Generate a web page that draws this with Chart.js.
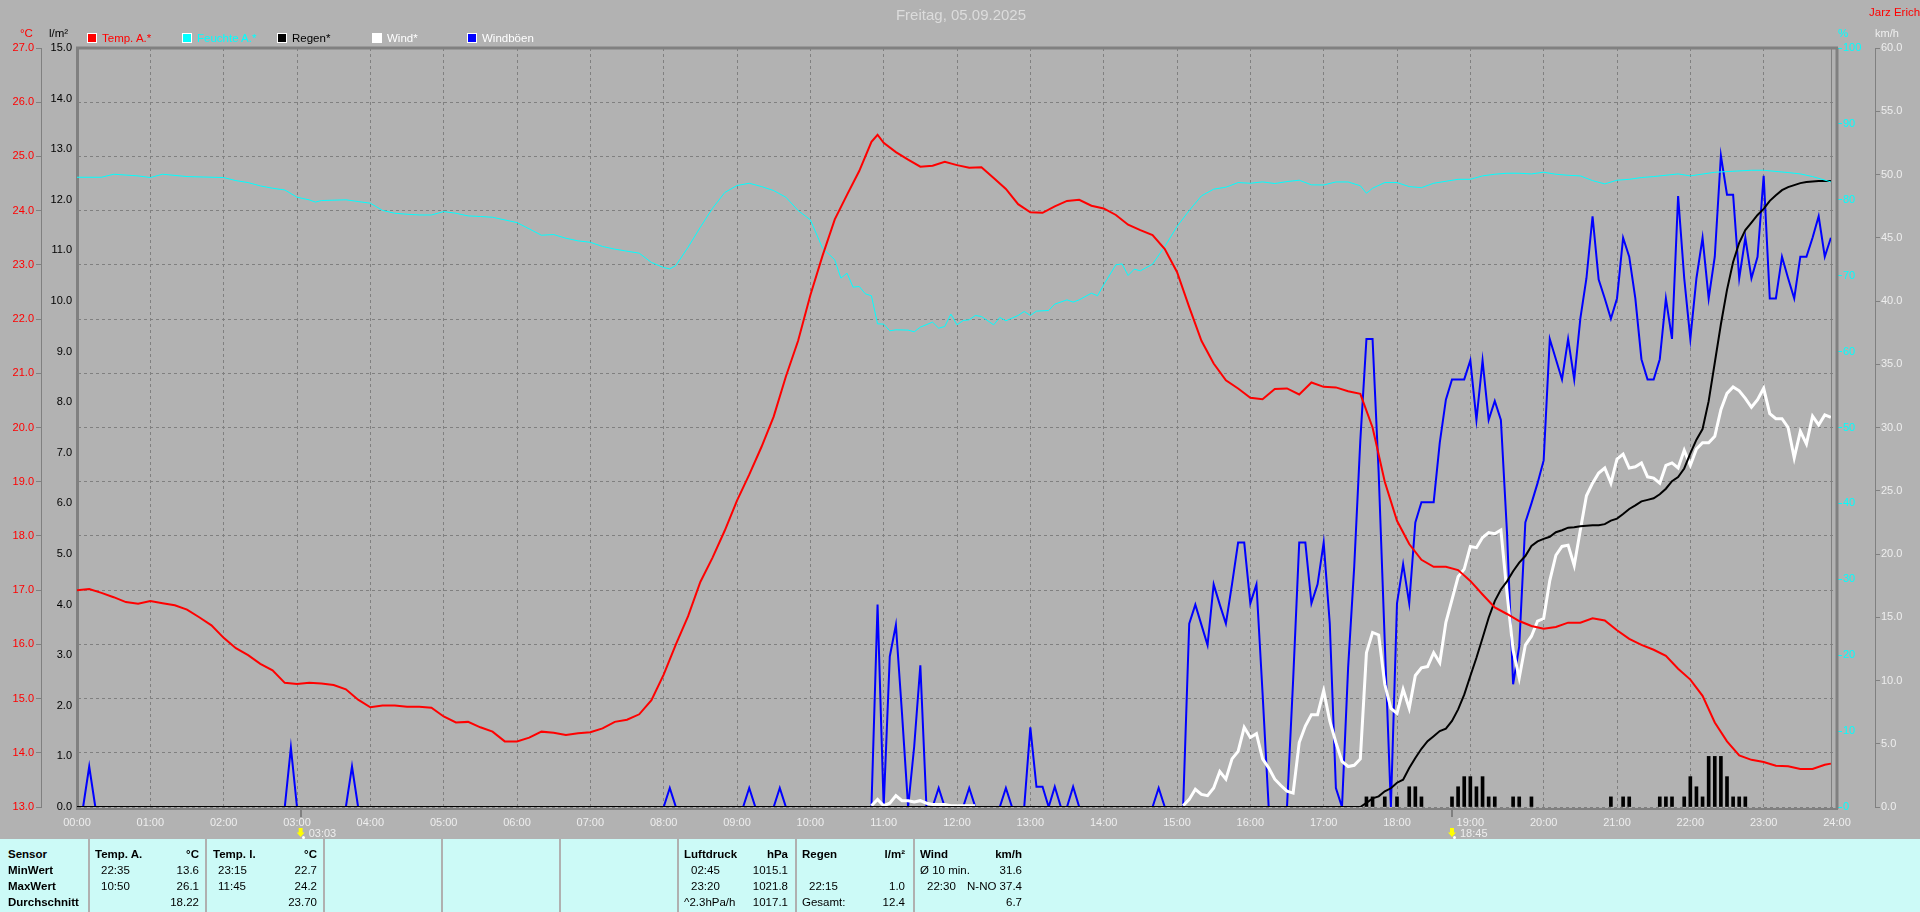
<!DOCTYPE html>
<html>
<head>
<meta charset="utf-8">
<title>Wetter 05.09.2025</title>
<script src="https://cdn.jsdelivr.net/npm/chart.js@4"></script>
<style>
    html, body { margin: 0; padding: 0; background: #b2b2b2; overflow: hidden; }
    #page { position: relative; width: 1920px; height: 912px; font: 11.5px "Liberation Sans", Arial, sans-serif; }
    #chart { position: absolute; left: 0; top: 0; }
    #panel { position: absolute; left: 0; top: 839px; width: 1920px; height: 73px; background: #ccfaf7; }
    .sep { position: absolute; top: 839px; width: 2px; height: 73px; background: #b0b0b0; }
    .txt { position: absolute; line-height: 14px; white-space: nowrap; }
    .swatch { position: absolute; width: 8px; height: 8px; border: 1px solid #fff; }
    .sun { position: absolute; width: 8px; height: 9px; background: #ffff00; clip-path: polygon(25% 0, 75% 0, 75% 50%, 100% 50%, 50% 100%, 0 50%, 25% 50%); }
    .dot { position: absolute; width: 3px; height: 3px; background: #fff; border-radius: 2px; }
</style>
</head>
<body>
<div id="page">
    <canvas id="chart" width="1920" height="839"></canvas>
    <div id="panel"></div>
</div>
<script>
const hourLabels = ['00:00','01:00','02:00','03:00','04:00','05:00','06:00','07:00','08:00','09:00','10:00','11:00','12:00',
    '13:00','14:00','15:00','16:00','17:00','18:00','19:00','20:00','21:00','22:00','23:00','24:00'];

// outside temperature, minute of day / °C
const tempTimes = [0,10,20,30,40,50, 60,70,80,90,100,110, 120,130,140,150,160,170, 180,190,200,210,220,230,
    240,250,260,270,280,290, 300,310,320,330,340,350, 360,370,380,390,400,410, 420,430,440,450,460,470,
    480,490,500,510,520,530, 540,550,560,570,580,590, 600,610,620,630,640,650,655, 660,670,680,690,700,710,
    720,730,740,750,760,770, 780,790,800,810,820,830, 840,850,860,870,880,890, 900,910,920,930,940,950,
    960,970,980,990,1000,1010, 1020,1030,1040,1050,1060,1070, 1080,1090,1100,1110,1120,1130, 1140,1150,1160,1170,1180,1190,
    1200,1210,1220,1230,1240,1250, 1260,1270,1280,1290,1300,1310, 1320,1330,1340,1350,1360,1370, 1380,1390,1400,1410,1420,1430,1435];
const tempValues = [17.0,17.02,16.95,16.87,16.78,16.75, 16.8,16.76,16.72,16.64,16.5,16.35, 16.12,15.93,15.8,15.64,15.52,15.29,
    15.27,15.29,15.28,15.25,15.17,14.98, 14.84,14.87,14.87,14.85,14.85,14.83, 14.67,14.56,14.57,14.47,14.39,14.21,
    14.21,14.28,14.39,14.37,14.33,14.36, 14.38,14.45,14.57,14.61,14.71,14.97, 15.44,16.0,16.52,17.15,17.6,18.1,
    18.65,19.13,19.64,20.2,20.94,21.6, 22.44,23.17,23.84,24.29,24.73,25.27,25.4, 25.25,25.08,24.94,24.81,24.83,24.9,
    24.84,24.79,24.8,24.6,24.4,24.12, 23.97,23.96,24.08,24.18,24.2,24.09, 24.04,23.92,23.74,23.64,23.55,23.29,
    22.87,22.22,21.6,21.18,20.87,20.72, 20.55,20.52,20.71,20.72,20.61,20.83, 20.75,20.74,20.67,20.62,20.0,19.0,
    18.28,17.85,17.56,17.43,17.43,17.37, 17.17,16.92,16.68,16.56,16.43,16.34, 16.29,16.32,16.4,16.4,16.48,16.44,
    16.26,16.1,15.99,15.9,15.79,15.55, 15.35,15.05,14.56,14.21,13.95,13.87, 13.83,13.76,13.75,13.7,13.7,13.78,13.8];

// outside humidity, minute of day / %
const humTimes = [0,20,30,50,60,70,90,120,130,140,150,160,170,180,190,195,200,220,230,240,250,260,270,280,290,300,310,320,330,340,
    360,370,380,390,400,410,420,430,440,450,460,470,480,485,490,500,510,520,530,540,550,560,570,580,590,600,610,620,625,630,635,640,645,650,655,
    660,665,670,680,685,690,700,705,710,715,720,725,730,735,740,750,755,760,770,775,780,785,795,800,810,815,820,830,835,840,850,855,860,865,870,880,890,
    900,910,920,930,940,950,960,970,980,990,1000,1010,1020,1030,1040,1050,1055,1060,1070,1080,1090,1100,1110,1130,1140,1150,1160,1170,1180,1190,
    1200,1210,1220,1230,1240,1250,1260,1270,1280,1290,1310,1320,1340,1350,1370,1380,1400,1410,1420,1435];
const humValues = [82.97,82.97,83.37,83.15,82.93,83.37,83.06,82.93,82.53,82.27,81.83,81.52,81.3,80.34,79.99,79.7,79.9,80,79.77,79.55,78.6,78.23,78.1,78,78,78.45,78.23,77.88,77.8,77.7,
    77,76.17,75.33,75.42,74.94,74.59,74.4,73.85,73.5,73.23,72.97,71.74,71.08,70.9,71.34,73.76,76.39,78.89,80.96,81.88,82.18,81.75,81.22,80.34,78.59,77.36,73.63,72.09,69.68,70.33,68.49,68.58,67.61,67.35,63.66,
    63.62,62.74,62.87,62.83,62.61,63.22,63.88,63.09,63.31,64.94,63.53,64.1,64.19,64.76,64.63,63.53,64.5,64.06,64.76,65.29,64.76,65.33,65.42,66.25,66.82,66.52,66.82,67.7,67.35,68.8,71.43,71.56,70.03,70.86,70.64,71.52,73.85,
    76.48,78.59,80.52,81.4,81.66,82.27,82.18,82.36,82.14,82.4,82.58,81.97,81.95,82.35,82.35,81.85,80.86,81.52,82.27,82.27,81.74,81.6,82.18,82.7,82.7,83.15,83.37,83.5,83.5,83.41,
    83.63,83.37,83.23,83.15,82.53,82.09,82.58,82.7,82.93,83.06,83.41,83.15,83.63,83.72,83.89,83.89,83.59,83.41,83.06,82.36];

// accumulated rain, one row per hour, 5 minute samples / l/m²
const rainTotal = [
    0,0,0,0,0,0,0,0,0,0,0,0, 0,0,0,0,0,0,0,0,0,0,0,0, 0,0,0,0,0,0,0,0,0,0,0,0, 0,0,0,0,0,0,0,0,0,0,0,0,
    0,0,0,0,0,0,0,0,0,0,0,0, 0,0,0,0,0,0,0,0,0,0,0,0, 0,0,0,0,0,0,0,0,0,0,0,0, 0,0,0,0,0,0,0,0,0,0,0,0,
    0,0,0,0,0,0,0,0,0,0,0,0, 0,0,0,0,0,0,0,0,0,0,0,0, 0,0,0,0,0,0,0,0,0,0,0,0, 0,0,0,0,0,0,0,0,0,0,0,0,
    0,0,0,0,0,0,0,0,0,0,0,0, 0,0,0,0,0,0,0,0,0,0,0,0, 0,0,0,0,0,0,0,0,0,0,0,0, 0,0,0,0,0,0,0,0,0,0,0,0,
    0,0,0,0,0,0,0,0,0,0,0,0,
    0,0,0,0,0,0,0,0.08,0.17,0.21,0.31,0.37,
    0.48,0.54,0.77,0.97,1.15,1.3,1.4,1.5,1.55,1.7,1.93,2.22,
    2.59,2.95,3.34,3.74,4.07,4.3,4.46,4.66,4.83,4.96,5.16,5.25,
    5.3,5.34,5.43,5.47,5.52,5.53,5.55,5.56,5.57,5.57,5.59,5.66,
    5.7,5.79,5.89,5.96,6.04,6.07,6.1,6.18,6.29,6.44,6.52,6.69,
    6.99,7.26,7.47,8.02,8.78,9.54,10.22,10.77,11.15,11.4,11.55,11.7,
    11.82,11.98,12.09,12.19,12.25,12.29,12.33,12.35,12.36,12.37,12.37,12.37];

// rain per 5 minutes, only the samples with a bar
const rainBarTimes = [1055,1060,1070,1080,1090,1095,1100,1125,1130,1135,1140,1145,1150,1155,1160,1175,1180,1190,
    1255,1265,1270,1295,1300,1305,1315,1320,1325,1330,1335,1340,1345,1350,1355,1360,1365];
const rainBarValues = [0.2,0.2,0.2,0.2,0.4,0.4,0.2,0.2,0.4,0.6,0.6,0.4,0.6,0.2,0.2,0.2,0.2,0.2,
    0.2,0.2,0.2,0.2,0.2,0.2,0.2,0.6,0.4,0.2,1.0,1.0,1.0,0.6,0.2,0.2,0.2];

// wind, one row per hour, 5 minute samples / km/h, null where the line is not drawn
const windValues = [
    null,null,null,null,null,null,null,null,null,null,null,null, null,null,null,null,null,null,null,null,null,null,null,null,
    null,null,null,null,null,null,null,null,null,null,null,null, null,null,null,null,null,null,null,null,null,null,null,null,
    null,null,null,null,null,null,null,null,null,null,null,null, null,null,null,null,null,null,null,null,null,null,null,null,
    null,null,null,null,null,null,null,null,null,null,null,null, null,null,null,null,null,null,null,null,null,null,null,null,
    null,null,null,null,null,null,null,null,null,null,null,null, null,null,null,null,null,null,null,null,null,null,null,null,
    null,null,null,null,null,null,null,null,null,null,0.1,0.6,
    0.1,0.3,0.9,0.5,0.5,0.4,0.5,0.3,0.2,0.2,0.2,0.1,
    0.1,0.1,0.1,0.1,null,null,null,null,null,null,null,null,
    null,null,null,null,null,null,null,null,null,null,null,null, null,null,null,null,null,null,null,null,null,null,null,null,
    null,0.1,0.6,1.4,1,0.9,1.5,2.8,2.2,3.8,4.4,6.3,
    5.5,5.8,3.8,3.1,2.2,1.7,1.25,1.1,5.1,6.4,7.3,7.3,
    9.2,6.8,5.1,3.6,3.2,3.3,3.8,12.2,13.8,13.6,9.7,7.8,
    7.4,9.3,7.8,10.4,11,11.1,12.2,11.4,14.6,16.4,18.2,18.8,
    20.6,20.5,21.3,21.7,21.6,21.9,16.9,12.4,10.2,12.8,13.5,14.7,
    14.9,17.9,19.9,20.6,20.7,19.1,21.9,24.6,25.6,26.4,26.8,25.6,
    27.5,27.9,26.8,26.9,27.2,26.1,26,25.6,27,27.2,26.8,28.2,
    27,28.3,28.8,28.8,29.3,31.4,32.7,33.2,32.9,32.3,31.6,32.2,
    33.1,31.1,30.7,30.7,30,27.6,29.7,28.7,30.9,30.2,31,30.8];

// gusts, one row per hour, 5 minute samples / km/h
const gustValues = [
    0,0,3.2,0,0,0,0,0,0,0,0,0,
    0,0,0,0,0,0,0,0,0,0,0,0,
    0,0,0,0,0,0,0,0,0,0,0,4.7,
    0,0,0,0,0,0,0,0,0,3.2,0,0,
    0,0,0,0,0,0,0,0,0,0,0,0,
    0,0,0,0,0,0,0,0,0,0,0,0,
    0,0,0,0,0,0,0,0,0,0,0,0,
    0,0,0,0,0,0,0,0,0,0,0,0,
    0,1.5,0,0,0,0,0,0,0,0,0,0,
    0,0,1.5,0,0,0,0,1.5,0,0,0,0,
    0,0,0,0,0,0,0,0,0,0,0,16,
    0,11.9,14.4,7.4,0,4.8,11.2,0,0,1.5,0,0,
    0,0,1.5,0,0,0,0,0,1.5,0,0,0,
    6.3,1.6,1.6,0,1.6,0,0,1.6,0,0,0,0,
    0,0,0,0,0,0,0,0,0,1.5,0,0,
    0,0,14.5,16,14.4,12.8,17.6,16,14.5,17.6,20.9,20.9,
    16.1,17.6,9,0,0,0,0,10,20.9,20.9,16.1,17.6,
    20.9,14.5,1.5,0,11,19,29,37,37,26.4,13,0,
    16.1,19.2,16.1,22.5,24.1,24.1,24.1,28.8,32.2,33.8,33.8,33.8,
    35.3,30.6,35.3,30.6,32.1,30.6,21.7,9.7,12.7,22.5,24,25.6,
    27.4,37,35.4,33.8,37,33.8,38.6,41.8,46.7,41.7,40.2,38.6,
    40.2,45,43.5,40.2,35.4,33.8,33.8,35.4,40.2,37,48.3,41.8,
    37,41.8,45,40.2,43.5,51.5,48.4,48.4,41.8,45,41.8,43.5,
    49.9,40.2,40.2,43.5,41.8,40.2,43.5,43.5,45,46.7,43.5,45];

const seriesNames = ['Temp. A.*', 'Feuchte A.*', 'Regen*', 'Wind*', 'Windböen'];
const seriesColors = ['#ff0000', '#00ffff', '#000000', '#ffffff', '#0000ff'];
const legendTextColors = ['#ff0000', '#00ffff', '#000000', '#ffffff', '#ffffff'];

const sunTimes = [183, 1125];
const sunLabels = ['03:03', '18:45'];
const lastSample = 1435;

function pairs(times, values) {
    return values.map((v, i) => ({ x: times[i], y: v }));
}
function everyFive(values) {
    return values.map((v, i) => ({ x: i * 5, y: v }));
}
function lineSet(index, data, yAxis, width, order) {
    return {
        type: 'line',
        label: seriesNames[index],
        data: data,
        yAxisID: yAxis,
        borderColor: seriesColors[index],
        backgroundColor: seriesColors[index],
        borderWidth: width,
        pointRadius: 0,
        tension: 0,
        spanGaps: false,
        order: order
    };
}

const GRID = '#808080';
const tickFont = { family: '"Liberation Sans", Arial, sans-serif', size: 11 };

// fixed axis widths so the plot area lands where it should
function fixWidth(w) {
    return (scale) => { scale.width = w; };
}

const framePlugin = {
    id: 'frame',
    afterDatasetsDraw(chart) {
        const { ctx, chartArea: a, scales } = chart;
        ctx.save();
        ctx.strokeStyle = GRID;
        ctx.lineWidth = 3;
        ctx.beginPath();
        ctx.moveTo(a.left - 1, a.top);
        ctx.lineTo(a.right + 1, a.top);
        ctx.moveTo(a.right, a.top);
        ctx.lineTo(a.right, a.bottom + 2);
        ctx.stroke();
        ctx.lineWidth = 2;
        ctx.beginPath();
        ctx.moveTo(a.left - 1, a.bottom + 2);
        ctx.lineTo(a.right + 1, a.bottom + 2);
        ctx.stroke();
        ctx.lineWidth = 1;
        const now = Math.round(scales.x.getPixelForValue(lastSample)) + 0.5;
        ctx.beginPath();
        ctx.moveTo(now, a.top);
        ctx.lineTo(now, a.bottom);
        ctx.stroke();
        ctx.lineWidth = 2;
        sunTimes.forEach((t) => {
            const x = Math.round(scales.x.getPixelForValue(t));
            ctx.beginPath();
            ctx.moveTo(x, a.bottom + 2);
            ctx.lineTo(x, a.bottom + 10);
            ctx.stroke();
        });
        ctx.restore();
    }
};

new Chart(document.getElementById('chart'), {
    type: 'line',
    data: {
        datasets: [
            lineSet(0, pairs(tempTimes, tempValues), 'yTemp', 2, 1),
            lineSet(1, pairs(humTimes, humValues), 'yHum', 1, 2),
            lineSet(2, everyFive(rainTotal), 'yRain', 2, 3),
            {
                type: 'bar',
                label: 'Regen',
                data: pairs(rainBarTimes, rainBarValues),
                yAxisID: 'yRain',
                backgroundColor: '#000000',
                barThickness: 3,
                order: 4
            },
            lineSet(3, everyFive(windValues), 'yWind', 3, 5),
            lineSet(4, everyFive(gustValues), 'yWind', 2, 6)
        ]
    },
    options: {
        responsive: false,
        animation: false,
        events: [],
        layout: { padding: { top: 48, left: 0, right: 0, bottom: 0 } },
        plugins: { legend: { display: false }, title: { display: false }, tooltip: { enabled: false } },
        scales: {
            x: {
                type: 'linear',
                min: 0,
                max: 1440,
                offset: false,
                afterFit: (scale) => { scale.height = 32; },
                border: { display: false, dash: [3, 3] },
                grid: { offset: false, color: GRID, drawTicks: false },
                afterBuildTicks: (scale) => { scale.ticks = hourLabels.map((_, i) => ({ value: i * 60 })); },
                ticks: {
                    color: '#eeeeee',
                    font: tickFont,
                    padding: 9,
                    autoSkip: false,
                    maxRotation: 0,
                    callback: (v) => hourLabels[v / 60]
                }
            },
            yTemp: {
                position: 'left',
                weight: 2,
                min: 13,
                max: 27,
                afterFit: fixWidth(41),
                border: { color: GRID, dash: [3, 3] },
                grid: { color: GRID, tickColor: GRID, tickLength: 5, tickBorderDash: [] },
                ticks: { stepSize: 1, color: '#ff0000', font: tickFont, padding: 2, callback: (v) => v.toFixed(1) }
            },
            yRain: {
                position: 'left',
                weight: 1,
                min: 0,
                max: 15,
                afterFit: fixWidth(36),
                border: { color: GRID, width: 3 },
                grid: { drawOnChartArea: false, drawTicks: false },
                ticks: { stepSize: 1, color: '#000000', font: tickFont, padding: 5, callback: (v) => v.toFixed(1) }
            },
            yHum: {
                position: 'right',
                weight: 1,
                min: 0,
                max: 100,
                afterFit: fixWidth(38),
                border: { display: false },
                grid: { drawOnChartArea: false, tickColor: '#00ffff', tickLength: 5 },
                ticks: { stepSize: 10, color: '#00ffff', font: tickFont, padding: 1 }
            },
            yWind: {
                position: 'right',
                weight: 2,
                min: 0,
                max: 60,
                afterFit: fixWidth(45),
                border: { color: GRID },
                grid: { drawOnChartArea: false, tickColor: GRID, tickLength: 5 },
                ticks: { stepSize: 5, color: '#eeeeee', font: tickFont, padding: 1, callback: (v) => v.toFixed(1) }
            }
        }
    },
    plugins: [framePlugin]
});

// texts around the plot and the table below it
const page = document.getElementById('page');

function addText(x, y, text, opts) {
    const o = opts || {};
    const el = document.createElement('div');
    el.className = 'txt';
    el.textContent = text;
    el.style.top = (y - 7) + 'px';
    if (o.right) {
        el.style.right = (1920 - x) + 'px';
    } else if (o.center) {
        el.style.left = x + 'px';
        el.style.transform = 'translateX(-50%)';
    } else {
        el.style.left = x + 'px';
    }
    el.style.color = o.color || '#000';
    if (o.bold) el.style.fontWeight = 'bold';
    if (o.size) el.style.fontSize = o.size + 'px';
    page.appendChild(el);
}

addText(961, 15, 'Freitag, 05.09.2025', { center: true, color: '#dcdcdc', size: 15 });
addText(1869, 12, 'Jarz Erich', { color: '#ff0000' });
addText(20, 33, '°C', { color: '#ff0000' });
addText(49, 33, 'l/m²');
addText(1838, 33, '%', { color: '#00ffff' });
addText(1875, 33, 'km/h', { color: '#eeeeee', size: 11 });

seriesNames.forEach((name, i) => {
    const sw = document.createElement('div');
    sw.className = 'swatch';
    sw.style.left = (87 + i * 95) + 'px';
    sw.style.top = '33px';
    sw.style.background = seriesColors[i];
    page.appendChild(sw);
    addText(102 + i * 95, 38, name, { color: legendTextColors[i] });
});

sunLabels.forEach((label, i) => {
    const x = 77 + sunTimes[i] * 1760 / 1440;
    const sun = document.createElement('div');
    sun.className = 'sun';
    sun.style.left = (x - 4) + 'px';
    sun.style.top = '828px';
    page.appendChild(sun);
    const dot = document.createElement('div');
    dot.className = 'dot';
    dot.style.left = (x + 1) + 'px';
    dot.style.top = '836px';
    page.appendChild(dot);
    addText(x + 8, 833, label, { color: '#eeeeee', size: 11 });
});

[88, 205, 323, 441, 559, 677, 795, 913].forEach((x) => {
    const sep = document.createElement('div');
    sep.className = 'sep';
    sep.style.left = x + 'px';
    page.appendChild(sep);
});

const rowY = [854, 870, 886, 902];

['Sensor', 'MinWert', 'MaxWert', 'Durchschnitt'].forEach((t, i) => addText(8, rowY[i], t, { bold: true }));

addText(95, rowY[0], 'Temp. A.', { bold: true });
addText(199, rowY[0], '°C', { bold: true, right: true });
addText(101, rowY[1], '22:35');
addText(199, rowY[1], '13.6', { right: true });
addText(101, rowY[2], '10:50');
addText(199, rowY[2], '26.1', { right: true });
addText(199, rowY[3], '18.22', { right: true });

addText(213, rowY[0], 'Temp. I.', { bold: true });
addText(317, rowY[0], '°C', { bold: true, right: true });
addText(218, rowY[1], '23:15');
addText(317, rowY[1], '22.7', { right: true });
addText(218, rowY[2], '11:45');
addText(317, rowY[2], '24.2', { right: true });
addText(317, rowY[3], '23.70', { right: true });

addText(684, rowY[0], 'Luftdruck', { bold: true });
addText(788, rowY[0], 'hPa', { bold: true, right: true });
addText(691, rowY[1], '02:45');
addText(788, rowY[1], '1015.1', { right: true });
addText(691, rowY[2], '23:20');
addText(788, rowY[2], '1021.8', { right: true });
addText(684, rowY[3], '^2.3hPa/h');
addText(788, rowY[3], '1017.1', { right: true });

addText(802, rowY[0], 'Regen', { bold: true });
addText(905, rowY[0], 'l/m²', { bold: true, right: true });
addText(809, rowY[2], '22:15');
addText(905, rowY[2], '1.0', { right: true });
addText(802, rowY[3], 'Gesamt:');
addText(905, rowY[3], '12.4', { right: true });

addText(920, rowY[0], 'Wind', { bold: true });
addText(1022, rowY[0], 'km/h', { bold: true, right: true });
addText(920, rowY[1], 'Ø 10 min.');
addText(1022, rowY[1], '31.6', { right: true });
addText(927, rowY[2], '22:30');
addText(1022, rowY[2], 'N-NO 37.4', { right: true });
addText(1022, rowY[3], '6.7', { right: true });
</script>
</body>
</html>
